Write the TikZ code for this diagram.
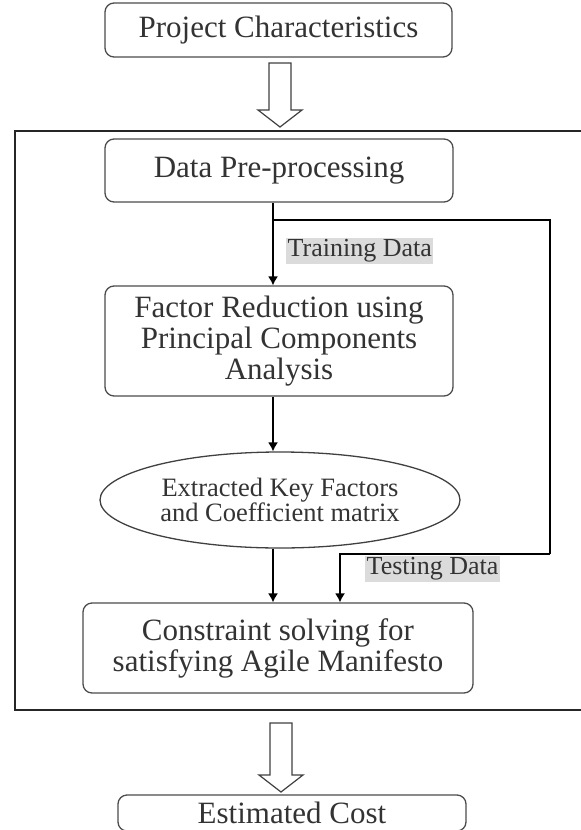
\documentclass[tikz,border=0pt]{standalone}
\usepackage{fontspec}
\setmainfont{Liberation Serif}
\usetikzlibrary{arrows.meta,shapes.geometric}

% hollow block arrow: x, top, tip
\newcommand{\hollowarrow}[3]{%
  \draw[hollow] (#1-11,#2) -- (#1+11,#2) -- (#1+11,#3-17) -- (#1+22,#3-17)
    -- (#1,#3) -- (#1-22,#3-17) -- (#1-11,#3-17) -- cycle;}

\begin{document}
\begin{tikzpicture}[
    x=1pt, y=-1pt,
    procbox/.style={draw=black!70, line width=1.3pt, rounded corners=9pt,
        align=center, text=black!80, inner sep=0pt,
        font=\fontsize{31}{31}\selectfont},
    keybox/.style={ellipse, draw=black!75, line width=1.3pt, align=center,
        text=black!80, inner sep=0pt, font=\fontsize{26.5}{25}\selectfont},
    datalabel/.style={fill=black!14, inner sep=1.5pt, text=black!80,
        font=\fontsize{26}{26}\selectfont},
    flow/.style={-{Latex[length=9pt,width=10pt]}, line width=1.3pt},
    hollow/.style={draw=black!75, line width=1.2pt, fill=white},
    frame/.style={draw=black!85, line width=2.2pt}
]
\useasboundingbox (0,0) rectangle (581,830);

% outer frame
\draw[frame] (15,131) rectangle (600,710);

% nodes
\node[procbox, minimum width=347pt, minimum height=54pt] (proj) at (278.5,30) {Project Characteristics};
\node[procbox, minimum width=348pt, minimum height=63pt] (datapre) at (279,170.5) {Data Pre-processing};
\node[procbox, minimum width=348pt, minimum height=110pt] (factor) at (279,341)
    {Factor Reduction using\\Principal Components\\Analysis};
\node[keybox, minimum width=360pt, minimum height=96pt] (keyfac) at (280,500)
    {Extracted Key Factors\\and Coefficient matrix};
\node[procbox, minimum width=390pt, minimum height=90pt] (constr) at (278,648)
    {Constraint solving for\\satisfying Agile Manifesto};
\node[procbox, minimum width=348pt, minimum height=36pt] (cost) at (292,813) {Estimated Cost};

% labels
\node[datalabel, anchor=west] (train) at (286,251) {Training Data};
\node[datalabel, anchor=west] (test) at (365,569) {Testing Data};

% connectors
\coordinate (mainx) at (273,0);
\coordinate (testx) at (340,0);
\coordinate (split) at (273,220);
\coordinate (fbturn) at (550,554);

\draw[flow] (datapre.south -| mainx) -- (factor.north -| mainx);
\draw[line width=1.3pt] (split) -| (fbturn);
\draw[flow] (fbturn) -| (constr.north -| testx);
\draw[flow] (factor.south -| mainx) -- (keyfac.north -| mainx);
\draw[flow] (keyfac.south -| mainx) -- (constr.north -| mainx);

% block arrows
\hollowarrow{280}{63}{127}
\hollowarrow{281}{723}{792}
\end{tikzpicture}
\end{document}
